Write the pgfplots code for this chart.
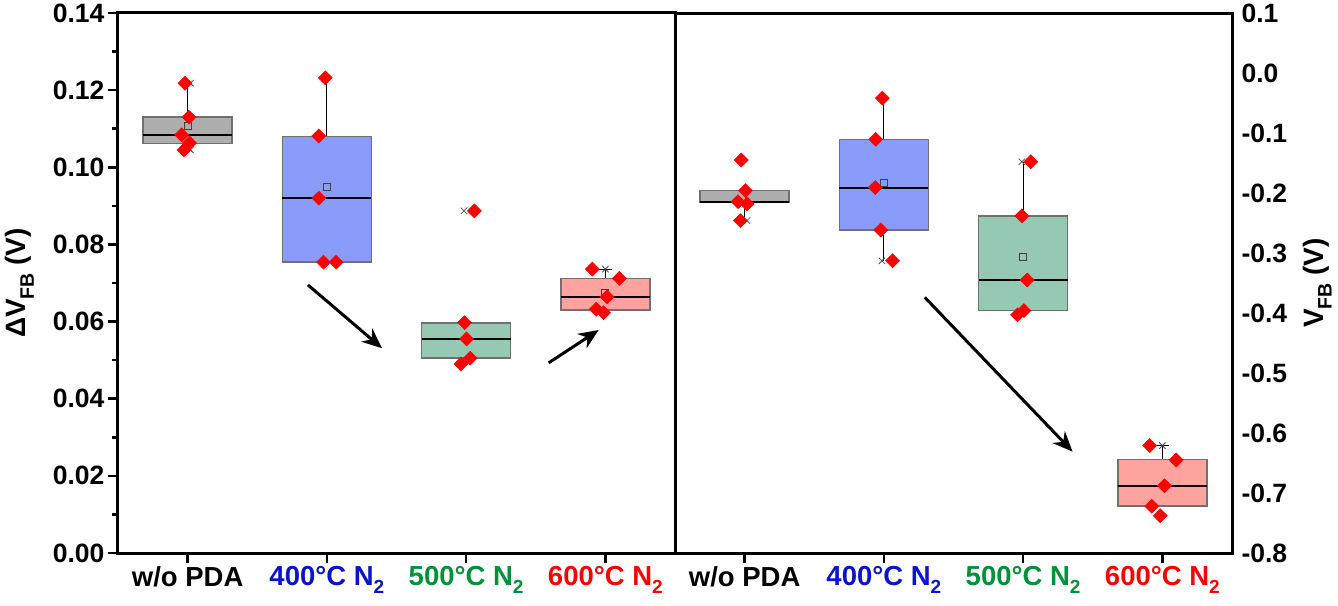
\documentclass[border=0pt]{standalone}
\usepackage{pgfplots}
\pgfplotsset{compat=1.18}
\usetikzlibrary{arrows.meta}
\usepackage{fontspec}
\setmainfont{Liberation Sans}
\definecolor{boxgray}{HTML}{AEAEAE}
\definecolor{boxblue}{HTML}{8A9CFA}
\definecolor{boxgreen}{HTML}{96C9B4}
\definecolor{boxpink}{HTML}{FFA39F}
\definecolor{boxedge}{HTML}{707070}
\definecolor{lblue}{HTML}{0A14C8}
\definecolor{lgreen}{HTML}{00913A}
\definecolor{lred}{HTML}{FF0000}
\definecolor{ptred}{HTML}{FF0000}
\newcommand{\sub}[1]{\raisebox{-0.28em}{\fontsize{19}{19}\selectfont #1}}
\newcommand{\lsub}[1]{\raisebox{-0.3em}{\fontsize{19.5}{20}\selectfont #1}}

\pgfplotsset{
  panel/.style={
    scale only axis, width=557pt, height=540pt,
    xmin=0.5, xmax=4.5, xtick={1,2,3,4},
    xticklabels={w/o PDA, \textcolor{lblue}{400°C N\sub{2}}, \textcolor{lgreen}{500°C N\sub{2}}, \textcolor{lred}{600°C N\sub{2}}},
    axis line style={line width=3pt},
    tick align=outside, xtick pos=bottom,
    major tick length=10pt, minor tick length=6pt,
    tick style={black, line width=2.5pt},
    yticklabel style={font=\fontsize{26.5}{30}\selectfont\bfseries},
    xticklabel style={font=\fontsize{27.5}{30}\selectfont\bfseries},
    label style={font=\fontsize{28}{32}\selectfont\bfseries},
    clip=false,
  },
  bx/.style={draw=boxedge, fill=#1, line width=1.5pt},
  med/.style={draw=black, line width=1.6pt},
  wh/.style={draw=black, line width=1.1pt},
  pts/.style={only marks, mark=square*, mark size=5pt, color=ptred,
    mark options={rotate=45, fill=ptred, draw=ptred, line width=0.4pt}},
  means/.style={only marks, mark=square, mark size=3.5pt,
    mark options={draw=black!75, line width=0.9pt}},
  xm/.style={only marks, mark=x, mark size=4.5pt,
    mark options={draw=black!70, line width=0.8pt}},
}

\begin{document}
\begin{tikzpicture}
\useasboundingbox (-118pt,-52pt) rectangle (1220pt,553pt);

% ---------- left panel ----------
\begin{axis}[panel, at={(0pt,0pt)}, anchor=south west,
  ymin=0, ymax=0.14,
  ytick={0,0.02,0.04,0.06,0.08,0.10,0.12,0.14},
  yticklabels={0.00,0.02,0.04,0.06,0.08,0.10,0.12,0.14},
  minor ytick={0.01,0.03,0.05,0.07,0.09,0.11,0.13},
  ytick pos=left,
  ylabel={ΔV\lsub{FB} (V)},
  ylabel style={at={(axis description cs:-0.177,0.5)}, anchor=center},
]
% whiskers
\addplot[wh] coordinates {(1,0.1130) (1,0.1218)};
\addplot[wh] coordinates {(1,0.1062) (1,0.1045)};
\addplot[wh] coordinates {(2,0.1080) (2,0.1232)};
\addplot[wh] coordinates {(3,0.0506) (3,0.0490)};
\addplot[wh] coordinates {(4,0.0712) (4,0.0736)};
% boxes
\addplot[bx=boxgray]  coordinates {(0.68,0.1062) (1.32,0.1062) (1.32,0.1130) (0.68,0.1130)} -- cycle;
\addplot[bx=boxblue]  coordinates {(1.68,0.0754) (2.32,0.0754) (2.32,0.1080) (1.68,0.1080)} -- cycle;
\addplot[bx=boxgreen] coordinates {(2.68,0.0506) (3.32,0.0506) (3.32,0.0596) (2.68,0.0596)} -- cycle;
\addplot[bx=boxpink]  coordinates {(3.68,0.0630) (4.32,0.0630) (4.32,0.0712) (3.68,0.0712)} -- cycle;
% medians
\addplot[med] coordinates {(0.68,0.1084) (1.32,0.1084)};
\addplot[med] coordinates {(1.68,0.0920) (2.32,0.0920)};
\addplot[med] coordinates {(2.68,0.0555) (3.32,0.0555)};
\addplot[med] coordinates {(3.68,0.0664) (4.32,0.0664)};
\addplot[wh] coordinates {(3.95,0.0736) (4.05,0.0736)};

\addplot[means] coordinates {(1,0.1107) (2,0.0948) (4,0.0675)};
\addplot[xm] coordinates {(1.02,0.1218) (1.02,0.1045) (2.985,0.0887) (4.0,0.0736)};

\addplot[pts] coordinates {(0.981,0.1218) (1.010,0.1130) (0.957,0.1084) (1.014,0.1063) (0.974,0.1045)};
\addplot[pts] coordinates {(1.989,0.1232) (1.942,0.1081) (1.942,0.0920) (1.976,0.0754) (2.066,0.0754)};
\addplot[pts] coordinates {(2.989,0.0597) (3.003,0.0555) (3.029,0.0505) (2.963,0.0490) (3.059,0.0887)};
\addplot[pts] coordinates {(3.907,0.0736) (4.101,0.0712) (4.013,0.0664) (3.934,0.0632) (3.987,0.0623)};

\draw[-{Stealth[length=20pt,width=17pt]}, line width=3pt] (axis cs:1.864,0.0695) -- (axis cs:2.396,0.0531);
\draw[-{Stealth[length=20pt,width=17pt]}, line width=3pt] (axis cs:3.593,0.0493) -- (axis cs:3.952,0.0578);
\end{axis}

% ---------- right panel ----------
\begin{axis}[panel, at={(557pt,0pt)}, anchor=south west,
  ymin=-0.8, ymax=0.1,
  ytick={-0.8,-0.7,-0.6,-0.5,-0.4,-0.3,-0.2,-0.1,0,0.1},
  yticklabels={-0.8,-0.7,-0.6,-0.5,-0.4,-0.3,-0.2,-0.1,0.0,0.1},
  ytick pos=right, yticklabel pos=right,
  ytick style={draw=none},
  yticklabel style={xshift=-4pt},
  ylabel={V\lsub{FB} (V)},
  ylabel style={at={(axis description cs:1.153,0.5)}, anchor=center},
]
\addplot[wh] coordinates {(1,-0.2155) (1,-0.246)};
\addplot[wh] coordinates {(2,-0.1105) (2,-0.042)};
\addplot[wh] coordinates {(2,-0.2617) (2,-0.3128)};
\addplot[wh] coordinates {(3,-0.238) (3,-0.148)};
\addplot[wh] coordinates {(3,-0.396) (3,-0.403)};
\addplot[wh] coordinates {(4,-0.644) (4,-0.621)};

\addplot[bx=boxgray]  coordinates {(0.68,-0.2155) (1.32,-0.2155) (1.32,-0.196) (0.68,-0.196)} -- cycle;
\addplot[bx=boxblue]  coordinates {(1.68,-0.2617) (2.32,-0.2617) (2.32,-0.1105) (1.68,-0.1105)} -- cycle;
\addplot[bx=boxgreen] coordinates {(2.68,-0.396) (3.32,-0.396) (3.32,-0.238) (2.68,-0.238)} -- cycle;
\addplot[bx=boxpink]  coordinates {(3.68,-0.722) (4.32,-0.722) (4.32,-0.644) (3.68,-0.644)} -- cycle;

\addplot[med] coordinates {(0.68,-0.2145) (1.32,-0.2145)};
\addplot[med] coordinates {(1.68,-0.192) (2.32,-0.192)};
\addplot[med] coordinates {(2.68,-0.345) (3.32,-0.345)};
\addplot[med] coordinates {(3.68,-0.688) (4.32,-0.688)};
\addplot[wh] coordinates {(3.95,-0.621) (4.05,-0.621)};

\addplot[means] coordinates {(2,-0.184) (3,-0.307)};
\addplot[xm] coordinates {(1.017,-0.246) (1.986,-0.313) (2.991,-0.148) (4.0,-0.621)};

\addplot[pts] coordinates {(0.976,-0.145) (1.006,-0.196) (0.953,-0.2145) (1.018,-0.218) (0.970,-0.246)};
\addplot[pts] coordinates {(1.989,-0.042) (1.941,-0.1105) (1.938,-0.191) (1.977,-0.2617) (2.062,-0.3128)};
\addplot[pts] coordinates {(3.055,-0.148) (2.991,-0.238) (3.030,-0.345) (3.006,-0.396) (2.960,-0.403)};
\addplot[pts] coordinates {(3.909,-0.621) (4.100,-0.645) (4.015,-0.688) (3.924,-0.722) (3.985,-0.738)};

\draw[-{Stealth[length=20pt,width=17pt]}, line width=3pt] (axis cs:2.294,-0.374) -- (axis cs:3.355,-0.631);
\end{axis}
\end{tikzpicture}
\end{document}
